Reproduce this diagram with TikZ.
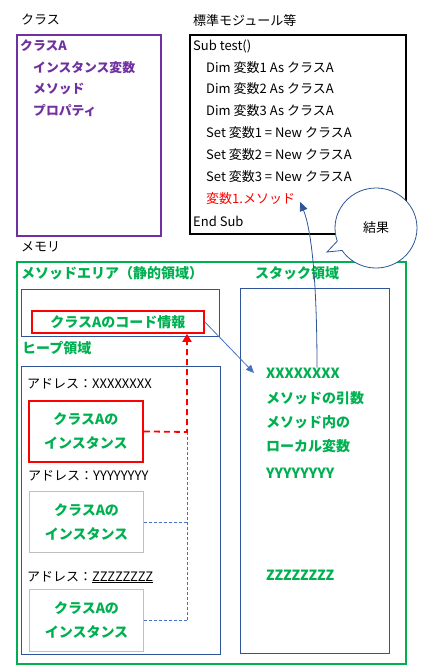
\documentclass[tikz,border=0pt]{standalone}
\usepackage{fontspec}
\setmainfont{Noto Sans CJK JP}
\usepackage{xcolor}
\usetikzlibrary{positioning, shapes.callouts, arrows.meta}
\definecolor{classpurple}{HTML}{7030A0}
\definecolor{memgreen}{HTML}{00B050}
\definecolor{areablue}{HTML}{2F5597}
\definecolor{linkblue}{HTML}{4472C4}
\definecolor{codered}{HTML}{FF0000}
\definecolor{instgray}{HTML}{BFBFBF}

\begin{document}
\begin{tikzpicture}[x=1pt, y=-1pt, font=\fontsize{13}{15}\selectfont,
    txt/.style={anchor=west, inner sep=0pt},
    greentxt/.style={txt, text=memgreen, font=\fontsize{14}{16}\selectfont\bfseries},
    purpletxt/.style={txt, text=classpurple, font=\fontsize{12.8}{14}\selectfont\bfseries},
    area/.style={draw, anchor=north west, inner sep=0pt},
    instbox/.style={area, line width=1pt, draw=instgray, minimum width=114, minimum height=61,
        align=center, text=memgreen, font=\fontsize{14}{24}\selectfont\bfseries}]
    \useasboundingbox (0,0) rectangle (424,671);

    % --- class module (left) ---
    \node (classlbl) [txt] at (21,20) {クラス};
    \node (classbox) [area, draw=classpurple, line width=2.2pt, minimum width=144, minimum height=201] at (16,34) {};
    \node (classA) [purpletxt] at (20,46) {クラスA};
    \node (instvar) [purpletxt] at (33,68) {インスタンス変数};
    \node (method) [purpletxt] at (33,89) {メソッド};
    \node (prop) [purpletxt] at (33,111) {プロパティ};

    % --- standard module (right) ---
    \node (modlbl) [txt] at (193,21) {標準モジュール等};
    \node (codebox) [area, line width=2.2pt, minimum width=216, minimum height=199] at (189,34) {};
    \node (subline) [txt] at (193,46) {Sub test()};
    \node (dim1) [txt] at (206,68) {Dim 変数1 As クラスA};
    \node (dim2) [txt] at (206,89) {Dim 変数2 As クラスA};
    \node (dim3) [txt] at (206,111) {Dim 変数3 As クラスA};
    \node (set1) [txt] at (206,133) {Set 変数1 = New クラスA};
    \node (set2) [txt] at (206,155) {Set 変数2 = New クラスA};
    \node (set3) [txt] at (206,177) {Set 変数3 = New クラスA};
    \node (callm) [txt, text=codered] at (206,199) {変数1.メソッド};
    \node (endsub) [txt] at (193,221) {End Sub};

    % --- memory ---
    \node (memlbl) [txt] at (21,247) {メモリ};
    \node (memory) [area, draw=memgreen, line width=2.2pt, minimum width=389, minimum height=402] at (16,261) {};
    \node (methodlbl) [greentxt] at (21,273) {メソッドエリア（静的領域）};
    \node (stacklbl) [greentxt] at (255,273) {スタック領域};
    \node (methodarea) [area, draw=areablue, minimum width=198, minimum height=47] at (21,289) {};
    \node (codeinfo) [area, draw=codered, line width=1.8pt, minimum width=172, minimum height=22,
        text=memgreen, font=\fontsize{14}{16}\selectfont\bfseries] at (31,310) {クラスAのコード情報};
    \node (heaplbl) [greentxt] at (22,348) {ヒープ領域};
    \node (heap) [area, draw=areablue, minimum width=199, minimum height=288] at (21,366) {};
    \node (stack) [area, draw=areablue, minimum width=149, minimum height=365] at (240,288) {};

    % instances in the heap
    \node (addr1) [txt] at (27,384) {アドレス：XXXXXXXX};
    \node (inst1) [instbox, draw=codered, line width=1.8pt] at (28,400) {クラスAの\\インスタンス};
    \node (addr2) [txt] at (28,476) {アドレス：YYYYYYYY};
    \node (inst2) [instbox] at (29,491) {クラスAの\\インスタンス};
    \node (addr3) [txt] at (27,577) {アドレス：\underline{ZZZZZZZZ}};
    \node (inst3) [instbox, minimum height=62] at (29,589) {クラスAの\\インスタンス};

    % stack contents
    \node (xaddr) [greentxt] at (266,373) {XXXXXXXX};
    \node (args) [greentxt] at (266,398) {メソッドの引数};
    \node (inmeth) [greentxt] at (266,422) {メソッド内の};
    \node (locals) [greentxt] at (266,446) {ローカル変数};
    \node (yaddr) [greentxt] at (266,473) {YYYYYYYY};
    \node (zaddr) [greentxt] at (266,575) {ZZZZZZZZ};

    % Connections
    \coordinate (jct) at (187,432);
    \draw[linkblue, densely dashed, line width=0.8pt] (jct) -- (jct |- inst3.east);
    \draw[linkblue, densely dashed, line width=0.8pt] (inst2.east) -- (inst2.east -| jct);
    \draw[linkblue, densely dashed, line width=0.8pt] (inst3.east) -- (inst3.east -| jct);
    \draw[codered, dashed, line width=1.8pt, dash pattern=on 6pt off 4pt, -{Triangle[length=8pt,width=9pt]}]
        (inst1.east) -- (jct) -- (jct |- codeinfo.south);
    \draw[linkblue, line width=0.8pt, -{Triangle[length=8pt,width=7pt]}]
        (codeinfo.east) -- ([xshift=-12pt]xaddr.west);
    \draw[areablue, line width=0.8pt, -{Triangle[length=9pt,width=8pt]}]
        ([xshift=14pt]xaddr.north) .. controls +(0,-80) and +(12,30) .. ([xshift=5pt,yshift=-3pt]callm.east);

    % Callout
    \node (result) [ellipse callout, draw=areablue, fill=white, line width=0.8pt, minimum width=82, minimum height=80,
        callout absolute pointer={(327,252)}] at (376,228) {結果};
\end{tikzpicture}
\end{document}
